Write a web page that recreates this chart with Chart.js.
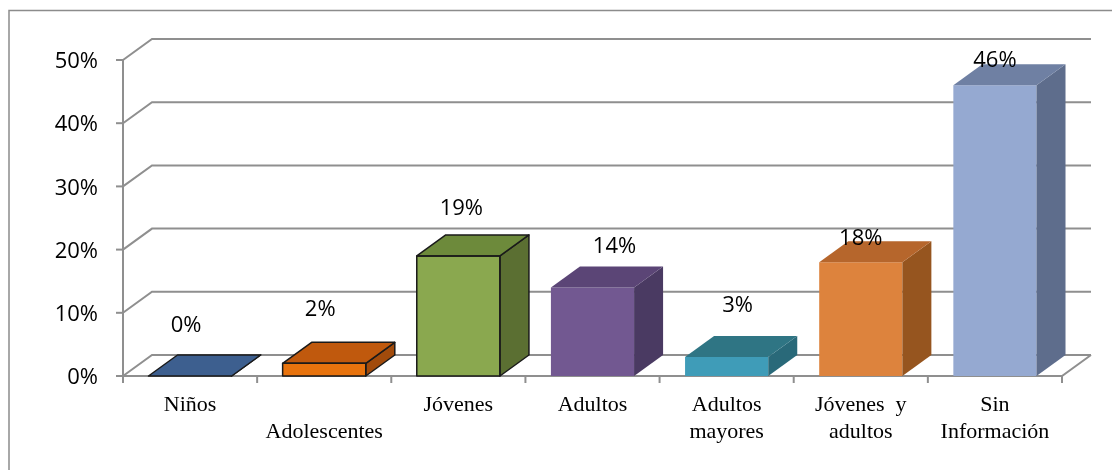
<!DOCTYPE html>
<html>
<head>
<meta charset="utf-8">
<script src="https://cdn.jsdelivr.net/npm/chart.js@4/dist/chart.umd.min.js"></script>
<style>
  html, body { margin: 0; padding: 0; background: #ffffff; }
  canvas { display: block; }
</style>
</head>
<body>
<canvas id="c" width="1112" height="470"></canvas>
<script>
// Age groups and their share (percent)
const categories = ['Niños', 'Adolescentes', 'Jóvenes', 'Adultos', 'Adultos mayores', 'Jóvenes  y adultos', 'Sin Información'];
const categoryLines = [['Niños'], ['', 'Adolescentes'], ['Jóvenes'], ['Adultos'], ['Adultos', 'mayores'], ['Jóvenes  y', 'adultos'], ['Sin', 'Información']];
const shares = [0, 2, 19, 14, 3, 18, 46];
const valueLabels = ['0%', '2%', '19%', '14%', '3%', '18%', '46%'];
const yTicks = [0, 10, 20, 30, 40, 50];
const yTickLabels = ['0%', '10%', '20%', '30%', '40%', '50%'];

// Face colours per bar: front, top, side
const frontColors = ['#3d5f8f', '#e8730d', '#8aa84f', '#725891', '#3f9cb8', '#dd833d', '#95a9d1'];
const topColors   = ['#3d5f8f', '#c0590d', '#6d8a3b', '#5b4576', '#2f7584', '#b6662c', '#6f80a3'];
const sideColors  = ['#2f4a70', '#a24b0b', '#5b6f32', '#4a3a62', '#296979', '#96551f', '#5e6d8c'];
const outlined    = [true, true, true, false, false, false, false];
// Label nudges (px): lift above bar front top, and sideways shift
const labelLift  = [51, 55, 48, 42, 52, 25, 26];
const labelShift = [-4, -4, 3, 22, 11, 0, 0];

const DEPTH_X = 29, DEPTH_Y = -21;
const GRID = '#8f8f8f';

function poly(ctx, pts, fill, stroke) {
  ctx.beginPath();
  ctx.moveTo(pts[0][0], pts[0][1]);
  for (let i = 1; i < pts.length; i++) ctx.lineTo(pts[i][0], pts[i][1]);
  ctx.closePath();
  ctx.fillStyle = fill;
  ctx.fill();
  if (stroke) {
    ctx.strokeStyle = stroke;
    ctx.lineWidth = 1.5;
    ctx.lineJoin = 'round';
    ctx.stroke();
  }
}

const frame3d = {
  id: 'frame3d',
  beforeDatasetsDraw(chart) {
    const { ctx, chartArea: a, scales: { x, y } } = chart;
    ctx.save();
    // outer frame (top and left edges)
    ctx.strokeStyle = '#8c8c8c';
    ctx.lineWidth = 1.5;
    ctx.beginPath();
    ctx.moveTo(9, 470); ctx.lineTo(9, 10.5); ctx.lineTo(1112, 10.5);
    ctx.stroke();

    ctx.strokeStyle = GRID;
    ctx.lineWidth = 2;
    const backRight = a.right + DEPTH_X;
    // back-wall gridlines with their left-wall diagonals
    yTicks.forEach(v => {
      const py = y.getPixelForValue(v);
      ctx.beginPath();
      ctx.moveTo(a.left, py);
      ctx.lineTo(a.left + DEPTH_X, py + DEPTH_Y);
      ctx.lineTo(backRight, py + DEPTH_Y);
      ctx.stroke();
      // tick mark
      ctx.beginPath();
      ctx.moveTo(a.left - 7, py);
      ctx.lineTo(a.left, py);
      ctx.stroke();
    });
    // vertical axis
    const y0 = y.getPixelForValue(0);
    const yTop = y.getPixelForValue(yTicks[yTicks.length - 1]);
    ctx.beginPath();
    ctx.moveTo(a.left, yTop); ctx.lineTo(a.left, y0);
    ctx.stroke();
    // floor front edge and right diagonal
    ctx.beginPath();
    ctx.moveTo(a.left, y0); ctx.lineTo(a.right, y0);
    ctx.lineTo(a.right + DEPTH_X, y0 + DEPTH_Y);
    ctx.stroke();
    // category boundary ticks
    const n = categories.length;
    const step = (a.right - a.left) / n;
    for (let i = 0; i <= n; i++) {
      const px = a.left + step * i;
      ctx.beginPath();
      ctx.moveTo(px, y0); ctx.lineTo(px, y0 + 7);
      ctx.stroke();
    }

    // y tick labels
    ctx.fillStyle = '#000';
    ctx.font = '22px "Open Sans", sans-serif';
    ctx.textAlign = 'right';
    ctx.textBaseline = 'middle';
    yTicks.forEach((v, i) => {
      ctx.fillText(yTickLabels[i], 98, y.getPixelForValue(v) + 2);
    });

    // category labels
    ctx.font = '22px "Liberation Serif", "Times New Roman", serif';
    ctx.textAlign = 'center';
    categoryLines.forEach((lines, i) => {
      const px = x.getPixelForValue(i);
      lines.forEach((t, j) => {
        if (t) ctx.fillText(t, px, 405 + j * 27);
      });
    });
    ctx.restore();
  },
  afterDatasetsDraw(chart) {
    const { ctx } = chart;
    const meta = chart.getDatasetMeta(0);
    ctx.save();
    meta.data.forEach((el, i) => {
      const x0 = el.x - el.width / 2, x1 = el.x + el.width / 2;
      const yt = el.y, yb = el.base;
      const stroke = outlined[i] ? '#1a1a1a' : null;
      // side face
      poly(ctx, [[x1, yt], [x1 + DEPTH_X, yt + DEPTH_Y], [x1 + DEPTH_X, yb + DEPTH_Y], [x1, yb]], sideColors[i], stroke);
      // top face
      poly(ctx, [[x0, yt], [x1, yt], [x1 + DEPTH_X, yt + DEPTH_Y], [x0 + DEPTH_X, yt + DEPTH_Y]], topColors[i], stroke);
      // front outline
      if (stroke && yb - yt > 0.5) {
        ctx.strokeStyle = stroke;
        ctx.lineWidth = 1.5;
        ctx.strokeRect(x0, yt, x1 - x0, yb - yt);
      }
    });
    // value labels
    ctx.fillStyle = '#000';
    ctx.font = '22px "Open Sans", sans-serif';
    ctx.textAlign = 'center';
    ctx.textBaseline = 'middle';
    meta.data.forEach((el, i) => {
      ctx.fillText(valueLabels[i], el.x + labelShift[i], el.y - labelLift[i] + 1);
    });
    ctx.restore();
  }
};

new Chart(document.getElementById('c'), {
  type: 'bar',
  data: {
    labels: categories,
    datasets: [{
      data: shares,
      backgroundColor: frontColors,
      borderWidth: 0,
      barPercentage: 0.62,
      categoryPercentage: 1
    }]
  },
  options: {
    responsive: false,
    animation: false,
    events: [],
    layout: { padding: { left: 123, right: 50, top: 60, bottom: 94 } },
    plugins: { legend: { display: false }, tooltip: { enabled: false } },
    scales: {
      x: { display: false },
      y: { display: false, min: 0, max: 50 }
    }
  },
  plugins: [frame3d]
});
</script>
</body>
</html>
